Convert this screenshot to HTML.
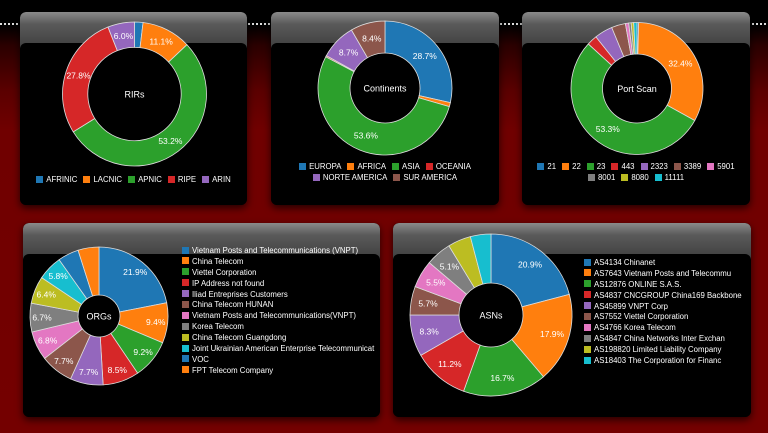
<!DOCTYPE html>
<html><head><meta charset="utf-8"><style>
html,body{margin:0;padding:0;width:768px;height:433px;overflow:hidden;}
body{position:relative;font-family:"Liberation Sans",Arial,sans-serif;background:linear-gradient(#000 0,#000 25px,#2a0000 45px,#5a0000 90px,#700000 130px,#740000 433px);}
.dots{position:absolute;left:0;top:23px;width:768px;height:2px;background:repeating-linear-gradient(90deg,#ddd 0 2px,transparent 2px 4px);}
.panel{position:absolute;border-radius:6px;background:#000;box-shadow:0 3px 8px rgba(0,0,0,.7);overflow:hidden;}
.hdr{position:absolute;left:0;top:0;right:0;background:linear-gradient(#8a8a8a,#5a5a5a 30%,#3a3a3a);border-radius:6px 6px 0 0;}
.body{position:absolute;left:0;right:0;bottom:0;background:#000;border-radius:6px;}
.leg{position:absolute;color:#fff;font-size:7.8px;line-height:11px;white-space:nowrap;}
.leg span{display:inline-block;margin:0 3px;}
.leg i{display:inline-block;width:7px;height:7px;margin-right:3px;vertical-align:-0.5px;}
.vleg div{height:10.9px;line-height:10.9px;}
svg{position:absolute;left:0;top:0;}
</style></head><body>
<div class="dots"></div>
<div class="panel" style="left:20px;top:12px;width:227px;height:193px"><div class="hdr" style="height:40px"></div><div class="body" style="top:31px"></div></div>
<div class="panel" style="left:271px;top:12px;width:228px;height:193px"><div class="hdr" style="height:40px"></div><div class="body" style="top:31px"></div></div>
<div class="panel" style="left:522px;top:12px;width:228px;height:193px"><div class="hdr" style="height:40px"></div><div class="body" style="top:31px"></div></div>
<div class="panel" style="left:23px;top:223px;width:357px;height:194px"><div class="hdr" style="height:40px"></div><div class="body" style="top:31px"></div></div>
<div class="panel" style="left:393px;top:223px;width:358px;height:194px"><div class="hdr" style="height:40px"></div><div class="body" style="top:31px"></div></div>
<svg id="s" width="768" height="433" viewBox="0 0 768 433"></svg>

<div class="leg" style="left:20px;width:227px;top:174px;text-align:center">
<span><i style="background:#1f77b4"></i>AFRINIC</span><span><i style="background:#ff7f0e"></i>LACNIC</span><span><i style="background:#2ca02c"></i>APNIC</span><span><i style="background:#d62728"></i>RIPE</span><span><i style="background:#9467bd"></i>ARIN</span></div>
<div class="leg" style="left:271px;width:228px;top:161px;text-align:center">
<span><i style="background:#1f77b4"></i>EUROPA</span><span><i style="background:#ff7f0e"></i>AFRICA</span><span><i style="background:#2ca02c"></i>ASIA</span><span><i style="background:#d62728"></i>OCEANIA</span><br><span><i style="background:#9467bd"></i>NORTE AMERICA</span><span><i style="background:#8c564b"></i>SUR AMERICA</span></div>
<div class="leg" style="left:522px;width:228px;top:161px;text-align:center">
<span><i style="background:#1f77b4"></i>21</span><span><i style="background:#ff7f0e"></i>22</span><span><i style="background:#2ca02c"></i>23</span><span><i style="background:#d62728"></i>443</span><span><i style="background:#9467bd"></i>2323</span><span><i style="background:#8c564b"></i>3389</span><span><i style="background:#e377c2"></i>5901</span><br><span><i style="background:#7f7f7f"></i>8001</span><span><i style="background:#bcbd22"></i>8080</span><span><i style="background:#17becf"></i>11111</span></div>
<div class="leg vleg" style="left:182px;top:246px">
<div><i style="background:#1f77b4"></i>Vietnam Posts and Telecommunications (VNPT)</div>
<div><i style="background:#ff7f0e"></i>China Telecom</div>
<div><i style="background:#2ca02c"></i>Viettel Corporation</div>
<div><i style="background:#d62728"></i>IP Address not found</div>
<div><i style="background:#9467bd"></i>Iliad Entreprises Customers</div>
<div><i style="background:#8c564b"></i>China Telecom HUNAN</div>
<div><i style="background:#e377c2"></i>Vietnam Posts and Telecommunications(VNPT)</div>
<div><i style="background:#7f7f7f"></i>Korea Telecom</div>
<div><i style="background:#bcbd22"></i>China Telecom Guangdong</div>
<div><i style="background:#17becf"></i>Joint Ukrainian American Enterprise Telecommunicat</div>
<div><i style="background:#1f77b4"></i>VOC</div>
<div><i style="background:#ff7f0e"></i>FPT Telecom Company</div>
</div>
<div class="leg vleg" style="left:584px;top:258px">
<div><i style="background:#1f77b4"></i>AS4134 Chinanet</div>
<div><i style="background:#ff7f0e"></i>AS7643 Vietnam Posts and Telecommu</div>
<div><i style="background:#2ca02c"></i>AS12876 ONLINE S.A.S.</div>
<div><i style="background:#d62728"></i>AS4837 CNCGROUP China169 Backbone</div>
<div><i style="background:#9467bd"></i>AS45899 VNPT Corp</div>
<div><i style="background:#8c564b"></i>AS7552 Viettel Corporation</div>
<div><i style="background:#e377c2"></i>AS4766 Korea Telecom</div>
<div><i style="background:#7f7f7f"></i>AS4847 China Networks Inter Exchan</div>
<div><i style="background:#bcbd22"></i>AS198820 Limited Liability Company</div>
<div><i style="background:#17becf"></i>AS18403 The Corporation for Financ</div>
</div>
<script>
var C=["#1f77b4","#ff7f0e","#2ca02c","#d62728","#9467bd","#8c564b","#e377c2","#7f7f7f","#bcbd22","#17becf","#1f77b4","#ff7f0e"];
var s=document.getElementById('s'),NS="http://www.w3.org/2000/svg";
function el(t,a,txt){var e=document.createElementNS(NS,t);for(var k in a)e.setAttribute(k,a[k]);if(txt)e.textContent=txt;s.appendChild(e);return e;}
function chart(cx,cy,r,ri,vals,title,lr){
 var tot=vals.reduce(function(a,b){return a+b},0),a0=0;
 vals.forEach(function(v,i){
  var a1=a0+v/tot*2*Math.PI;
  var p=function(rr,a){return [cx+rr*Math.sin(a),cy-rr*Math.cos(a)]};
  var big=(a1-a0)>Math.PI?1:0;
  var A=p(r,a0),B=p(r,a1),D=p(ri,a1),E=p(ri,a0);
  el('path',{d:"M"+A+" A"+r+","+r+" 0 "+big+" 1 "+B+" L"+D+" A"+ri+","+ri+" 0 "+big+" 0 "+E+"Z",fill:C[i],stroke:"#ddd","stroke-width":"0.8"});
  if(v>=5){var m=(a0+a1)/2,L=p(lr,m);el('text',{x:L[0],y:L[1]+3,fill:"#fff","font-size":"8.5","text-anchor":"middle","font-family":"Liberation Sans, Arial, sans-serif"},v.toFixed(1)+"%");}
  a0=a1;});
 el('text',{x:cx,y:cy+3.5,fill:"#fff","font-size":"9","text-anchor":"middle","font-family":"Liberation Sans, Arial, sans-serif"},title);
}
chart(134.5,94,72,46.7,[1.9,11.1,53.2,27.8,6.0],"RIRs",59);
chart(385,88,67,35,[28.7,1.0,53.6,0.3,8.7,8.4],"Continents",51);
chart(637,88.5,66,34.5,[0.4,32.4,53.3,2.5,4.4,3.4,0.8,0.6,0.6,0.8],"Port Scan",50);
chart(99,316,69,21,[21.9,9.4,9.2,8.5,7.7,7.7,6.8,6.7,6.4,5.8,4.9,4.9],"ORGs",57);
chart(491,315,81,32,[20.9,17.9,16.7,11.2,8.3,5.7,5.5,5.1,4.6,4.1],"ASNs",64);
</script>
</body></html>
